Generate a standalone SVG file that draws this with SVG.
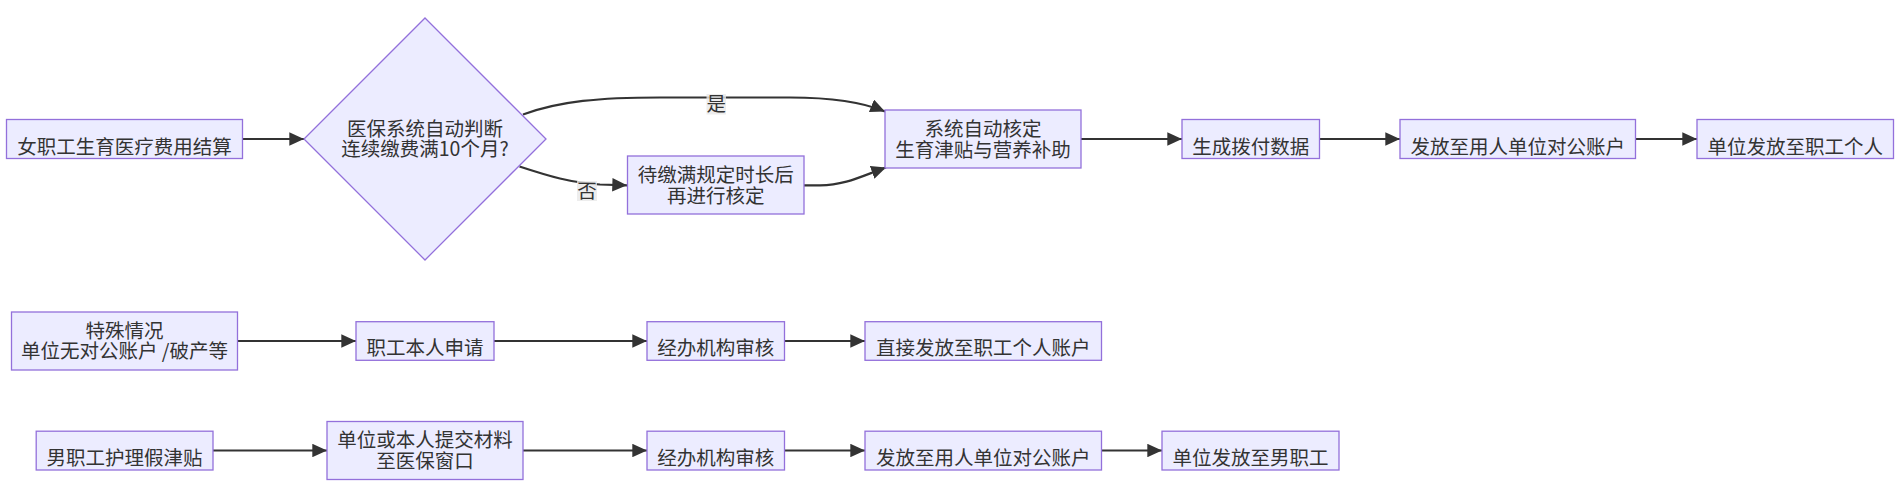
<svg xmlns="http://www.w3.org/2000/svg" width="1895" height="499" viewBox="0 0 1895 499">
<style>
.node rect,.node polygon{fill:#ECECFF;stroke:#9370DB;stroke-width:1.3}
.node text,.lbl text{font-family:"Noto Sans CJK SC","Noto Sans",sans-serif;font-size:19.5px;fill:#333;text-anchor:middle}
.edges path{fill:none;stroke:#333;stroke-width:2.2;marker-end:url(#arr)}
.lbl rect{fill:rgba(232,232,232,0.8)}
</style>
<defs>
<marker id="arr" viewBox="0 0 10 10" refX="10" refY="5" markerUnits="userSpaceOnUse" markerWidth="14.7" markerHeight="13.5" preserveAspectRatio="none" orient="auto">
<path d="M0,0 L10,5 L0,10 z" fill="#333"/>
</marker>
</defs>
<g class="edges">
<path d="M242.5,139 L304,139"/>
<path d="M523,114.5 C560,101 600,97.5 660,97.5 L790,97.5 C830,97.5 860,101 885,111.5"/>
<path d="M519.5,166.5 C550,176.5 570,182.5 600,184.5 L627,185.3"/>
<path d="M804,185.3 L820,185.3 C845,185.3 862,176 886,167.5"/>
<path d="M1081,139 L1182,139"/>
<path d="M1319.5,139 L1400,139"/>
<path d="M1635.5,139 L1697,139"/>
<path d="M237.5,341 L356,341"/>
<path d="M494,341 L647,341"/>
<path d="M784.5,341 L865,341"/>
<path d="M213,450.5 L327,450.5"/>
<path d="M523,450.5 L647,450.5"/>
<path d="M784.5,450.5 L865,450.5"/>
<path d="M1101.5,450.5 L1162,450.5"/>
</g>
<g class="lbl" id="lbl-yes"><rect x="706.5" y="94" width="19.5" height="20.5"/><text x="716.25" y="111.4">是</text></g>
<g class="lbl" id="lbl-no"><rect x="577" y="181" width="20" height="20"/><text x="587" y="198.4">否</text></g>
<g class="node" id="n1"><rect x="6.5" y="119.5" width="236" height="39"/><text x="124.5" y="153.5">女职工生育医疗费用结算</text></g>
<g class="node" id="n2"><polygon points="425,18 546,139 425,260 304,139"/><text x="425" y="135.5">医保系统自动判断</text><text x="425" y="156">连续缴费满10个月?</text></g>
<g class="node" id="n3"><rect x="627.5" y="156" width="176.5" height="58"/><text x="715.75" y="182.3">待缴满规定时长后</text><text x="715.75" y="202.8">再进行核定</text></g>
<g class="node" id="n4"><rect x="885" y="110" width="196" height="58"/><text x="983" y="136">系统自动核定</text><text x="983" y="156.5">生育津贴与营养补助</text></g>
<g class="node" id="n5"><rect x="1182" y="119.5" width="137.5" height="39"/><text x="1250.75" y="153.5">生成拨付数据</text></g>
<g class="node" id="n6"><rect x="1400" y="119.5" width="235.5" height="39"/><text x="1517.75" y="153.5">发放至用人单位对公账户</text></g>
<g class="node" id="n7"><rect x="1697" y="119.5" width="196.5" height="39"/><text x="1795.25" y="153.5">单位发放至职工个人</text></g>
<g class="node" id="s1"><rect x="11.5" y="312" width="226" height="58"/><text x="124.5" y="337.8">特殊情况</text><text x="124.5" y="358.3">单位无对公账户 /破产等</text></g>
<g class="node" id="s2"><rect x="356" y="321.7" width="138" height="38.6"/><text x="425" y="355.4">职工本人申请</text></g>
<g class="node" id="s3"><rect x="647" y="321.7" width="137.5" height="38.6"/><text x="715.75" y="355.4">经办机构审核</text></g>
<g class="node" id="s4"><rect x="865" y="321.7" width="236.5" height="38.6"/><text x="983.25" y="355.4">直接发放至职工个人账户</text></g>
<g class="node" id="m1"><rect x="36.2" y="431.2" width="176.8" height="38.8"/><text x="124.6" y="465">男职工护理假津贴</text></g>
<g class="node" id="m2"><rect x="327" y="421.5" width="196" height="58"/><text x="425" y="447.3">单位或本人提交材料</text><text x="425" y="467.8">至医保窗口</text></g>
<g class="node" id="m3"><rect x="647" y="431.2" width="137.5" height="38.8"/><text x="715.75" y="465">经办机构审核</text></g>
<g class="node" id="m4"><rect x="865" y="431.2" width="236.5" height="38.8"/><text x="983.25" y="465">发放至用人单位对公账户</text></g>
<g class="node" id="m5"><rect x="1162" y="431.2" width="177" height="38.8"/><text x="1250.5" y="465">单位发放至男职工</text></g>
</svg>
